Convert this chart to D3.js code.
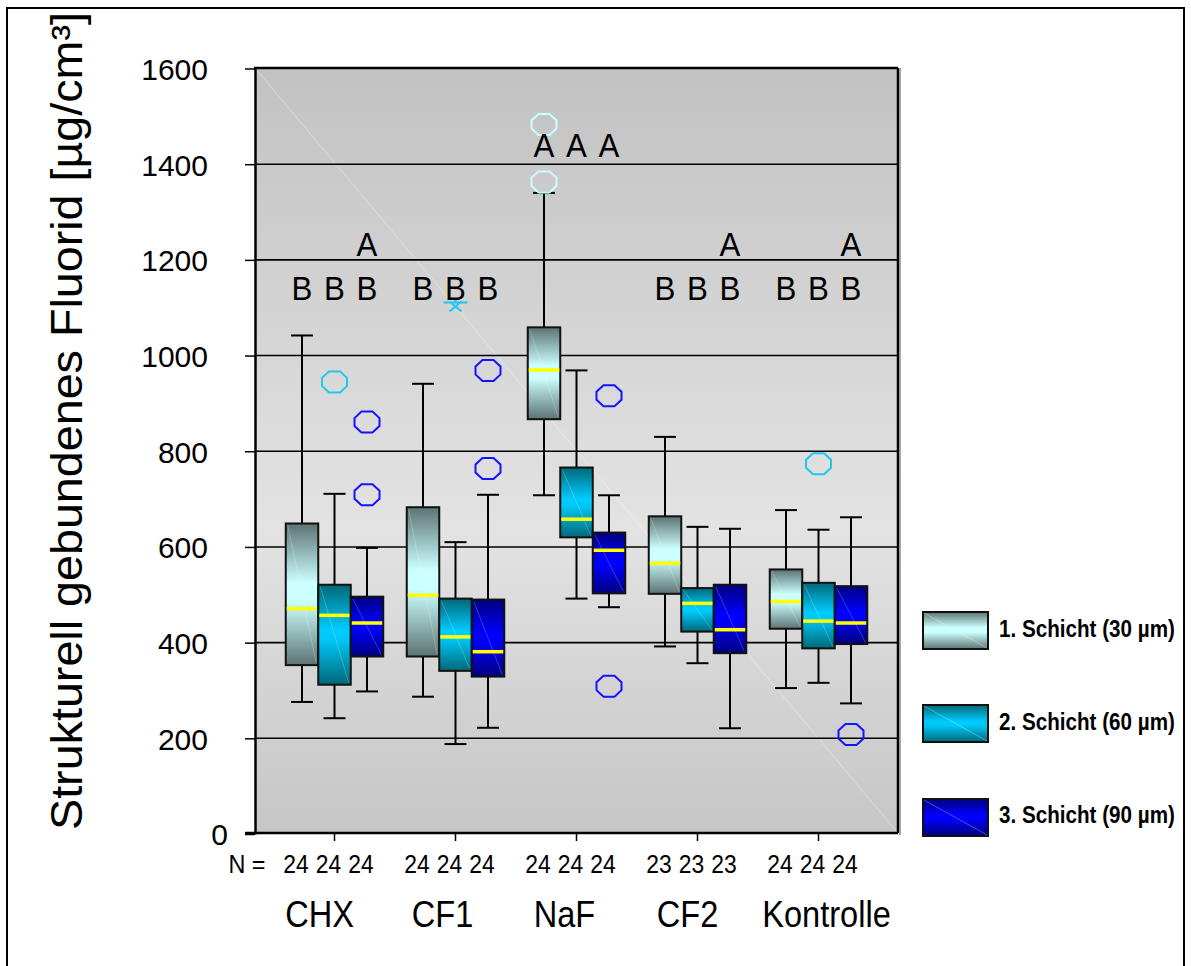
<!DOCTYPE html>
<html>
<head>
<meta charset="utf-8">
<script src="https://cdn.jsdelivr.net/npm/d3@7"></script>
<style>
  html, body { margin: 0; padding: 0; background: #fff; }
  svg { display: block; font-family: "Liberation Sans", Arial, sans-serif; }
</style>
</head>
<body>
<svg id="chart" width="1191" height="966"></svg>
<script>
// ---------------- data ----------------
const groups = ["CHX", "CF1", "NaF", "CF2", "Kontrolle"];
const seriesNames = ["1. Schicht (30 µm)", "2. Schicht (60 µm)", "3. Schicht (90 µm)"];
const nCounts = [[24, 24, 24], [24, 24, 24], [24, 24, 24], [23, 23, 23], [24, 24, 24]];
// [lower whisker, Q1, median, Q3, upper whisker] per group
const layer1 = [[276, 353, 471, 649, 1042], [287, 371, 499, 683, 941], [708, 867, 970, 1059, 1340], [392, 502, 566, 664, 830], [305, 429, 486, 553, 677]];
const layer2 = [[242, 312, 457, 521, 711], [188, 341, 412, 492, 610], [492, 620, 658, 766, 969], [357, 423, 482, 514, 642], [316, 388, 445, 525, 636]];
const layer3 = [[298, 371, 441, 496, 598], [222, 329, 381, 490, 709], [474, 503, 593, 630, 708], [221, 378, 427, 521, 638], [273, 397, 441, 518, 662]];
const outliers1 = [[], [], [1483, 1363], [], []];
const outliers2 = [[945], [], [], [], [774]];
const outliers3 = [[861, 709], [969, 764], [916, 309], [], [208]];
const extremes2 = [[], [1111], [], [], []];
const sigLetters = [["B", "B", "AB"], ["B", "B", "B"], ["A", "A", "A"], ["B", "B", "AB"], ["B", "B", "AB"]];
const yTicks = [0, 200, 400, 600, 800, 1000, 1200, 1400, 1600];

const layers = [layer1, layer2, layer3];
const outlierSets = [outliers1, outliers2, outliers3];
const outlierColors = ["#c8ffff", "#1ec8f0", "#1414ff"];

// ---------------- layout ----------------
const svg = d3.select("#chart");
const plotL = 255, plotR = 898, plotT = 68, plotB = 833;
const labelShift = [-15, -13, -12, -10, 8];

const y = d3.scaleLinear().domain([0, 1600]).range([834, 68.5]);
const x = d3.scaleBand().domain(groups).range([274, 879]).paddingInner(0).paddingOuter(0);
const sub = d3.scaleBand().domain([0, 1, 2]).range([-48.75, 48.75]);
const boxW = sub.bandwidth();
const cx = (gi, si) => x(groups[gi]) + x.bandwidth() / 2 + sub(si) + boxW / 2;

const defs = svg.append("defs");
const bg = defs.append("linearGradient").attr("id", "bgGrad").attr("x1", 0).attr("y1", 0).attr("x2", 0).attr("y2", 1);
[[0, "#c2c2c2"], [0.6, "#e3e3e3"], [1, "#c6c6c6"]].forEach(s => bg.append("stop").attr("offset", s[0]).attr("stop-color", s[1]));

const gradDefs = [
  [["0", "#5c7372"], ["0.42", "#ccffff"], ["0.55", "#ccffff"], ["1", "#5c7372"]],
  [["0", "#006878"], ["0.45", "#00ccff"], ["0.55", "#00c8f8"], ["1", "#006878"]],
  [["0", "#000080"], ["0.45", "#0000ff"], ["0.55", "#0000f8"], ["1", "#000080"]]
];
gradDefs.forEach((stops, i) => {
  const g = defs.append("linearGradient").attr("id", "box" + i).attr("x1", 0).attr("y1", 0).attr("x2", 0).attr("y2", 1);
  stops.forEach(s => g.append("stop").attr("offset", s[0]).attr("stop-color", s[1]));
});

// outer frame
svg.append("rect").attr("x", 7).attr("y", 8).attr("width", 1177).attr("height", 970)
  .attr("fill", "none").attr("stroke", "#000").attr("stroke-width", 2);

// plot background
svg.append("rect").attr("x", plotL).attr("y", plotT).attr("width", plotR - plotL).attr("height", plotB - plotT)
  .attr("fill", "url(#bgGrad)");
svg.append("line").attr("x1", plotL).attr("y1", plotT).attr("x2", plotR).attr("y2", plotB)
  .attr("stroke", "#ffffff").attr("stroke-opacity", 0.35).attr("stroke-width", 1);

// gridlines
svg.append("g").selectAll("line").data(yTicks.filter(v => v > 0 && v < 1600)).join("line")
  .attr("x1", plotL).attr("x2", plotR).attr("y1", d => y(d)).attr("y2", d => y(d))
  .attr("stroke", "#000").attr("stroke-width", 1.6);

// plot frame
svg.append("line").attr("x1", plotL - 1).attr("x2", plotR).attr("y1", plotT).attr("y2", plotT).attr("stroke", "#000").attr("stroke-width", 2.5);
svg.append("line").attr("x1", plotR).attr("x2", plotR).attr("y1", plotT).attr("y2", plotB).attr("stroke", "#000").attr("stroke-width", 2.5);
svg.append("line").attr("x1", plotR + 2).attr("x2", plotR + 2).attr("y1", plotT).attr("y2", plotB + 2).attr("stroke", "#8a8a8a").attr("stroke-width", 1.5);

// whiskers
layers.forEach((layer, si) => {
  const g = svg.append("g");
  layer.forEach((st, gi) => {
    const c = cx(gi, si);
    const [lo, q1, med, q3, hi] = st;
    g.append("line").attr("x1", c).attr("x2", c).attr("y1", y(hi)).attr("y2", y(q3)).attr("stroke", "#000").attr("stroke-width", 2);
    g.append("line").attr("x1", c).attr("x2", c).attr("y1", y(q1)).attr("y2", y(lo)).attr("stroke", "#000").attr("stroke-width", 2);
    [hi, lo].forEach(v => g.append("line").attr("x1", c - 11).attr("x2", c + 11).attr("y1", y(v)).attr("y2", y(v)).attr("stroke", "#000").attr("stroke-width", 2));
  });
});
// boxes
layers.forEach((layer, si) => {
  const g = svg.append("g");
  layer.forEach((st, gi) => {
    const c = cx(gi, si);
    const [lo, q1, med, q3, hi] = st;
    const x0 = c - boxW / 2;
    g.append("rect").attr("x", x0).attr("y", y(q3)).attr("width", boxW).attr("height", y(q1) - y(q3))
      .attr("fill", "url(#box" + si + ")").attr("stroke", "#111").attr("stroke-width", 2);
    g.append("line").attr("x1", x0 + 2).attr("y1", y(q3) + 2).attr("x2", x0 + boxW - 2).attr("y2", y(q1) - 2)
      .attr("stroke", "#ffffff").attr("stroke-opacity", 0.22).attr("stroke-width", 1);
    g.append("line").attr("x1", x0 + 1).attr("x2", x0 + boxW - 1).attr("y1", y(med)).attr("y2", y(med))
      .attr("stroke", "#ffff00").attr("stroke-width", 3.5);
  });
});

// outliers
const octagon = "M-5.5,-10.5L5.5,-10.5L12.5,-4L12.5,4L5.5,10.5L-5.5,10.5L-12.5,4L-12.5,-4Z";
outlierSets.forEach((set, si) => {
  set.forEach((vals, gi) => {
    vals.forEach(v => {
      svg.append("path").attr("d", octagon).attr("transform", `translate(${cx(gi, si)},${y(v)})`)
        .attr("fill", "none").attr("stroke", outlierColors[si]).attr("stroke-width", 2);
    });
  });
});
extremes2.forEach((vals, gi) => {
  vals.forEach(v => {
    svg.append("path").attr("d", "M-12,0L12,0M-6,-1L6,9M6,-1L-6,9M0,-4L0,0")
      .attr("transform", `translate(${cx(gi, 1)},${y(v)})`)
      .attr("fill", "none").attr("stroke", outlierColors[1]).attr("stroke-width", 2);
  });
});

// significance letters
sigLetters.forEach((row, gi) => {
  const base = groups[gi] === "NaF" ? 1414 : 1117;
  row.forEach((txt, si) => {
    const chars = txt.split("");
    chars.forEach((ch, k) => {
      const v = base + (chars.length - 1 - k) * 92;
      svg.append("text").attr("transform", `translate(${cx(gi, si)},${y(v)}) scale(0.92,1)`).attr("text-anchor", "middle")
        .attr("font-size", 34).attr("fill", "#000").text(ch);
    });
  });
});

// y axis
const yAxis = svg.append("g").attr("transform", `translate(${plotL},0)`)
  .call(d3.axisLeft(y).tickValues(yTicks).tickSize(10).tickSizeOuter(0).tickFormat(d3.format("d")));
yAxis.select(".domain").attr("stroke", "#000").attr("stroke-width", 2.5);
yAxis.selectAll(".tick line").attr("stroke", "#000").attr("stroke-width", 1.5);
yAxis.selectAll(".tick text").attr("font-size", 30).attr("font-family", "Liberation Sans, Arial, sans-serif")
  .attr("fill", "#000").attr("x", d => d === 0 ? -27 : -47).attr("dy", "0.36em");

// x axis
const xAxis = svg.append("g").attr("transform", `translate(0,${plotB})`)
  .call(d3.axisBottom(x).tickSize(8).tickSizeOuter(0).tickFormat(""));
xAxis.select(".domain").attr("d", `M${plotL - 10},0H${plotR}`).attr("stroke", "#000").attr("stroke-width", 2.5);
xAxis.selectAll(".tick line").attr("stroke", "#000").attr("stroke-width", 1.5);

// N labels
svg.append("text").attr("transform", "translate(247,873) scale(0.9,1)").attr("text-anchor", "middle")
  .attr("font-size", 26).attr("fill", "#000").text("N =");
nCounts.forEach((row, gi) => {
  row.forEach((n, si) => {
    svg.append("text").attr("transform", `translate(${cx(gi, si) - 6},873) scale(0.88,1)`)
      .attr("text-anchor", "middle").attr("font-size", 26).attr("fill", "#000").text(n);
  });
});

// category labels
groups.forEach((gname, gi) => {
  svg.append("text").attr("transform", `translate(${x(gname) + x.bandwidth() / 2 + labelShift[gi]},927) scale(0.88,1)`)
    .attr("text-anchor", "middle").attr("font-size", 37).attr("fill", "#000").text(gname);
});

// y title
svg.append("text").attr("transform", "translate(82,421) rotate(-90)").attr("text-anchor", "middle")
  .attr("font-size", 44).attr("fill", "#000")
  .attr("textLength", 818).attr("lengthAdjust", "spacingAndGlyphs")
  .text("Strukturell gebundenes Fluorid [µg/cm³]");

// legend
const legY = [612, 705, 799];
const legTextY = [637, 730, 823];
seriesNames.forEach((name, si) => {
  svg.append("rect").attr("x", 923).attr("y", legY[si]).attr("width", 65).attr("height", 37)
    .attr("fill", "url(#box" + si + ")").attr("stroke", "#111").attr("stroke-width", 2);
  svg.append("line").attr("x1", 924).attr("y1", legY[si] + 1).attr("x2", 987).attr("y2", legY[si] + 36)
    .attr("stroke", "#fff").attr("stroke-opacity", 0.3).attr("stroke-width", 1);
  svg.append("text").attr("transform", `translate(999,${legTextY[si]}) scale(0.86,1)`)
    .attr("font-size", 24).attr("font-weight", "bold").attr("fill", "#000").text(name);
});
</script>
</body>
</html>
